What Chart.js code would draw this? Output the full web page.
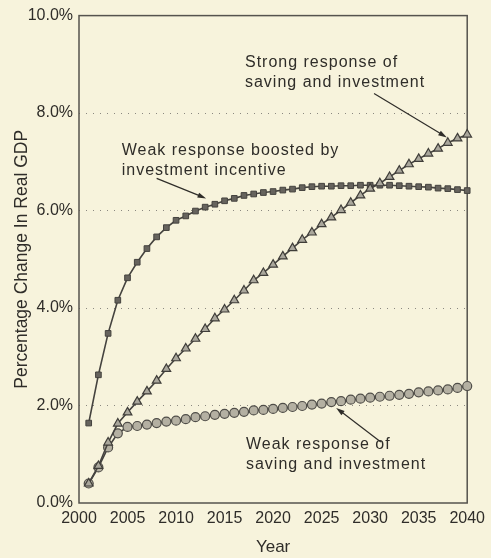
<!DOCTYPE html>
<html>
<head>
<meta charset="utf-8">
<script src="https://cdn.jsdelivr.net/npm/chart.js@4"></script>
<style>
  body { margin: 0; background: #f7f3dc; }
  canvas { display: block; background: #f7f3dc; }
</style>
</head>
<body>
<canvas id="grafico" width="491" height="558"></canvas>
<script>
// dados
const anos = [2001, 2002, 2003, 2004, 2005, 2006, 2007, 2008, 2009, 2010,
  2011, 2012, 2013, 2014, 2015, 2016, 2017, 2018, 2019, 2020,
  2021, 2022, 2023, 2024, 2025, 2026, 2027, 2028, 2029, 2030,
  2031, 2032, 2033, 2034, 2035, 2036, 2037, 2038, 2039, 2040]

// Weak response boosted by investment incentive (quadrados)
const fracoIncentivo = [1.64, 2.63, 3.48, 4.16, 4.62, 4.94, 5.22, 5.46, 5.65, 5.80,
  5.89, 5.99, 6.07, 6.13, 6.20, 6.25, 6.31, 6.34, 6.37, 6.39,
  6.42, 6.44, 6.47, 6.49, 6.50, 6.50, 6.51, 6.51, 6.52, 6.52,
  6.52, 6.52, 6.51, 6.50, 6.49, 6.48, 6.46, 6.45, 6.43, 6.41]

// Strong response of saving and investment (triângulos)
const forte = [0.40, 0.76, 1.24, 1.63, 1.86, 2.08, 2.29, 2.51, 2.75, 2.97,
  3.17, 3.37, 3.57, 3.79, 3.97, 4.16, 4.36, 4.57, 4.72, 4.89,
  5.06, 5.23, 5.40, 5.55, 5.72, 5.86, 6.01, 6.16, 6.31, 6.45,
  6.56, 6.69, 6.82, 6.95, 7.06, 7.17, 7.27, 7.39, 7.48, 7.56]

// Weak response of saving and investment (círculos)
const fraco = [0.40, 0.73, 1.14, 1.43, 1.56, 1.58, 1.61, 1.64, 1.67, 1.69,
  1.72, 1.76, 1.78, 1.81, 1.83, 1.85, 1.87, 1.90, 1.91, 1.93,
  1.95, 1.97, 1.99, 2.02, 2.04, 2.07, 2.09, 2.12, 2.14, 2.16,
  2.18, 2.20, 2.22, 2.24, 2.27, 2.29, 2.31, 2.33, 2.36, 2.40]

const ticksX = [2000, 2005, 2010, 2015, 2020, 2025, 2030, 2035, 2040]
const ticksY = [0, 2, 4, 6, 8, 10]

const fonte = "'Liberation Sans', Arial, Helvetica, sans-serif"
const corTexto = '#2f2d29'
const corLinha = '#45433f'

// anotações (em coordenadas dos dados)
const notas = [
  { linhas: ['Strong response of', 'saving and investment'], x: 2017.1, y: 9.04,
    seta: [2030.4, 8.40, 2037.9, 7.50] },
  { linhas: ['Weak response boosted by', 'investment incentive'], x: 2004.4, y: 7.23,
    seta: [2008.0, 6.66, 2013.1, 6.25] },
  { linhas: ['Weak response of', 'saving and investment'], x: 2017.2, y: 1.19,
    seta: [2031.1, 1.25, 2026.5, 1.95] }
]

function pontos(valores) {
  return anos.map((a, i) => ({ x: a, y: valores[i] }))
}

// caixa em volta da área do gráfico
const caixa = {
  id: 'caixa',
  beforeDatasetsDraw(chart) {
    const { ctx, chartArea: a } = chart
    ctx.save()
    ctx.strokeStyle = '#55534e'
    ctx.lineWidth = 1.5
    ctx.strokeRect(a.left, a.top, a.right - a.left, a.bottom - a.top)
    ctx.restore()
  }
}

// textos e setas
const anotacoes = {
  id: 'anotacoes',
  afterDatasetsDraw(chart) {
    const { ctx, scales: { x, y } } = chart
    ctx.save()
    ctx.fillStyle = corTexto
    ctx.strokeStyle = corTexto
    ctx.font = '16px ' + fonte
    ctx.letterSpacing = '1px'
    ctx.textBaseline = 'middle'
    ctx.textAlign = 'left'
    for (let n of notas) {
      let px = x.getPixelForValue(n.x)
      let py = y.getPixelForValue(n.y)
      n.linhas.forEach((t, i) => ctx.fillText(t, px, py + i * 20))

      let x1 = x.getPixelForValue(n.seta[0]), y1 = y.getPixelForValue(n.seta[1])
      let x2 = x.getPixelForValue(n.seta[2]), y2 = y.getPixelForValue(n.seta[3])
      let ang = Math.atan2(y2 - y1, x2 - x1)
      ctx.lineWidth = 1.2
      ctx.beginPath()
      ctx.moveTo(x1, y1)
      ctx.lineTo(x2 - 6 * Math.cos(ang), y2 - 6 * Math.sin(ang))
      ctx.stroke()
      ctx.beginPath()
      ctx.moveTo(x2, y2)
      ctx.lineTo(x2 - 9 * Math.cos(ang - 0.3), y2 - 9 * Math.sin(ang - 0.3))
      ctx.lineTo(x2 - 9 * Math.cos(ang + 0.3), y2 - 9 * Math.sin(ang + 0.3))
      ctx.closePath()
      ctx.fill()
    }
    ctx.restore()
  }
}

const config = {
  type: 'line',
  data: {
    datasets: [
      {
        label: 'Strong response of saving and investment',
        data: pontos(forte),
        borderColor: corLinha,
        borderWidth: 1.6,
        pointStyle: 'triangle',
        pointRadius: 5,
        pointBackgroundColor: '#aaa79c',
        pointBorderColor: '#3f3d39',
        pointBorderWidth: 1.2,
        clip: false,
        order: 1
      },
      {
        label: 'Weak response boosted by investment incentive',
        data: pontos(fracoIncentivo),
        borderColor: corLinha,
        borderWidth: 1.6,
        pointStyle: 'rect',
        pointRadius: 4,
        pointBackgroundColor: '#66635d',
        pointBorderColor: '#44423e',
        pointBorderWidth: 1,
        clip: false,
        order: 2
      },
      {
        label: 'Weak response of saving and investment',
        data: pontos(fraco),
        borderColor: corLinha,
        borderWidth: 1.6,
        pointStyle: 'circle',
        pointRadius: 4.5,
        pointBackgroundColor: '#b4b0a2',
        pointBorderColor: '#4f4d48',
        pointBorderWidth: 1.2,
        clip: false,
        order: 3
      }
    ]
  },
  options: {
    responsive: false,
    animation: false,
    layout: { padding: { top: 15, right: 20, left: 0, bottom: 0 } },
    plugins: { legend: { display: false }, tooltip: { enabled: false } },
    scales: {
      x: {
        type: 'linear',
        min: 2000,
        max: 2040,
        afterBuildTicks: s => { s.ticks = ticksX.map(v => ({ value: v })) },
        afterFit: s => { s.height = 55 },
        ticks: {
          callback: v => String(v),
          color: corTexto,
          font: { size: 16, family: fonte },
          padding: 6,
          maxRotation: 0,
          autoSkip: false
        },
        grid: { display: false, drawTicks: false },
        border: { display: false },
        title: {
          display: true,
          text: 'Year',
          color: corTexto,
          font: { size: 17, family: fonte },
          padding: { top: 0, bottom: 0 }
        }
      },
      y: {
        min: 0,
        max: 10,
        afterBuildTicks: s => { s.ticks = ticksY.map(v => ({ value: v })) },
        afterFit: s => { s.width = 79 },
        ticks: {
          callback: v => v.toFixed(1) + '%',
          color: corTexto,
          font: { size: 16, family: fonte },
          padding: 6
        },
        grid: {
          drawTicks: false,
          color: c => (c.tick && (c.tick.value === 0 || c.tick.value === 10)) ? 'rgba(0,0,0,0)' : '#8b8880',
          lineWidth: 1
        },
        border: { display: false, dash: [1, 6] },
        title: {
          display: true,
          text: 'Percentage Change In Real GDP',
          color: corTexto,
          font: { size: 17.5, family: fonte },
          padding: { top: 12, bottom: 0 }
        }
      }
    }
  },
  plugins: [caixa, anotacoes]
}

new Chart(document.getElementById('grafico'), config)
</script>
</body>
</html>
